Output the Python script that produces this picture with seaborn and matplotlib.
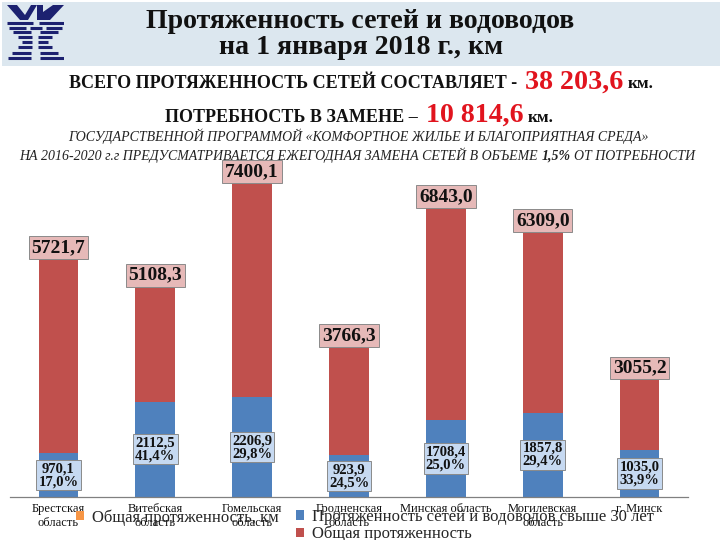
import matplotlib
matplotlib.use("Agg")
import matplotlib.pyplot as plt
import seaborn as sns
import pandas as pd
from matplotlib.patches import Patch, Rectangle, Polygon

# ---------------- data ----------------
regions = ["Брестская\nобласть", "Витебская\nобласть", "Гомельская\nобласть",
           "Гродненская\nобласть", "Минская область", "Могилевская\nобласть", "г. Минск"]
total_km = [5721.7, 5108.3, 7400.1, 3766.3, 6843.0, 6309.0, 3055.2]
old_km = [970.1, 2112.5, 2206.9, 923.9, 1708.4, 1857.8, 1035.0]
old_pct = [17.0, 41.4, 29.8, 24.5, 25.0, 29.4, 33.9]
legend_labels = ["Общая протяженность, км",
                 "Протяженность сетей и водоводов свыше 30 лет",
                 "Общая протяженность"]
title_lines = ["Протяженность сетей и водоводов", "на 1 января 2018 г., км"]
total_all = "38 203,6"
need_replace = "10 814,6"

RED = "#C0504D"
BLUE = "#4F81BD"
ORANGE = "#F79646"
TXT_RED = "#E1141E"

sns.set_theme(style="white")
plt.rcParams["font.family"] = ["Liberation Serif", "DejaVu Serif"]

W, H = 720, 540
fig = plt.figure(figsize=(7.2, 5.4), dpi=100)
fig.patch.set_facecolor("white")


def fx(x):
    return x / W


def fy(y):
    return 1 - y / H


# header band
fig.add_artist(Rectangle((fx(2), fy(66)), 1, 64 / H, transform=fig.transFigure,
                         fc="#DCE7EF", ec="none", zorder=0))

# logo
lax = fig.add_axes([fx(4), fy(62), 60 / W, 60 / H])
lax.set_xlim(0, 60)
lax.set_ylim(60, 0)
lax.axis("off")
NAVY = "#1C2170"
lax.add_patch(Polygon([(3, 3), (13, 3), (21, 13), (27, 3), (33, 3), (24, 18), (16, 18)],
                      closed=True, fc=NAVY, ec="none"))
lax.add_patch(Polygon([(33, 3), (39, 3), (39, 10), (49, 3), (60, 3), (46, 18), (33, 18)],
                      closed=True, fc=NAVY, ec="none"))
stripes = [(21, [(3, 29), (35, 60)]), (25.5, [(5, 22), (26, 38), (42, 58)]),
           (30, [(9, 27), (36, 54)]), (35, [(14, 28), (34, 48)]),
           (40, [(18, 28), (34, 44)]), (45, [(14, 28), (34, 48)]),
           (50.5, [(8, 27), (36, 54)]), (56, [(4, 27), (36, 60)])]
for yy, segs in stripes:
    for a, b in segs:
        lax.plot([a, b], [yy, yy], color=NAVY, lw=2.2, solid_capstyle="butt")

renderer = fig.canvas.get_renderer()


def place_line(pieces, x0, x1, ybase, base=12.0, gap=0.28):
    texts = []
    for s, scale, color, weight, style in pieces:
        t = fig.text(0, 0, s, fontsize=base * scale, color=color, fontweight=weight,
                     fontstyle=style, ha="left", va="baseline")
        texts.append((t, scale))

    def measure():
        ws = [t.get_window_extent(renderer).width for t, _ in texts]
        gaps = [gap * t.get_fontsize() * 100 / 72 for t, _ in texts[1:]]
        return ws, gaps

    ws, gaps = measure()
    k = (x1 - x0) / (sum(ws) + sum(gaps))
    for t, sc in texts:
        t.set_fontsize(base * sc * k)
    ws, gaps = measure()
    x = x0
    for i, (t, _) in enumerate(texts):
        if i > 0:
            x += gaps[i - 1]
        t.set_position((fx(x), fy(ybase)))
        x += ws[i]
    return base * k


# titles
tsize = place_line([(title_lines[0], 1, "#111111", "bold", "normal")], 146, 574, 28, base=20)
fig.text(fx(361), fy(53.5), title_lines[1], fontsize=tsize, fontweight="bold",
         color="#111111", ha="center", va="baseline")

place_line([("ВСЕГО ПРОТЯЖЕННОСТЬ СЕТЕЙ СОСТАВЛЯЕТ -", 1, "#111111", "bold", "normal"),
            (total_all, 1.55, TXT_RED, "bold", "normal"),
            ("км.", 0.95, "#111111", "bold", "normal")], 69, 652, 88.5)
place_line([("ПОТРЕБНОСТЬ В ЗАМЕНЕ –", 1, "#111111", "bold", "normal"),
            (need_replace, 1.55, TXT_RED, "bold", "normal"),
            ("км.", 0.95, "#111111", "bold", "normal")], 165, 553, 121.5)
place_line([("ГОСУДАРСТВЕННОЙ ПРОГРАММОЙ «КОМФОРТНОЕ ЖИЛЬЕ И БЛАГОПРИЯТНАЯ СРЕДА»",
             1, "#222222", "normal", "italic")], 68, 651, 141, base=9.5)
place_line([("НА 2016-2020 г.г ПРЕДУСМАТРИВАЕТСЯ ЕЖЕГОДНАЯ ЗАМЕНА СЕТЕЙ В ОБЪЕМЕ",
             1, "#222222", "normal", "italic"),
            ("1,5%", 1, "#222222", "bold", "italic"),
            ("ОТ ПОТРЕБНОСТИ", 1, "#222222", "normal", "italic")], 19, 702, 160, base=9.5)

# ---------------- chart ----------------
ax = fig.add_axes([fx(10), 43 / H, 678 / W, 339 / H])
df = pd.DataFrame({"region": regions, "total": total_km, "old": old_km, "pct": old_pct})
sns.barplot(data=df, x="region", y="total", color=RED, width=0.41, saturation=1, ax=ax,
            edgecolor="none")
sns.barplot(data=df, x="region", y="old", color=BLUE, width=0.41, saturation=1, ax=ax,
            edgecolor="none")
ax.set_xlim(-0.5, 6.5)
ax.set_ylim(0, 7500)
ax.set_xlabel("")
ax.set_ylabel("")
ax.set_yticks([])
ax.patch.set_alpha(0)
for s in ["left", "right", "top"]:
    ax.spines[s].set_visible(False)
ax.spines["bottom"].set_color("#808080")
ax.spines["bottom"].set_linewidth(0.9)
ax.set_xticks(range(len(regions)))
ax.set_xticklabels(regions, fontsize=9, linespacing=1.25, color="#111111")
ax.tick_params(axis="x", which="major", length=0, pad=4)
ax.set_xticks([i - 0.5 for i in range(len(regions) + 1)], minor=True)
ax.tick_params(axis="x", which="minor", length=5, color="#808080", width=0.9)


def fmt(v):
    return f"{v:.1f}".replace(".", ",")


for i, (t, o, p) in enumerate(zip(total_km, old_km, old_pct)):
    ax.text(i, t - 200, fmt(t), ha="center", va="center", fontsize=14, fontweight="bold",
            color="#111111", zorder=5,
            bbox=dict(boxstyle="square,pad=0.15", fc="#E6B9B8", ec="#8A8A8A", lw=0.7))
    ax.text(i, o / 2, f"{fmt(o)}\n{fmt(p)}%", ha="center", va="center", fontsize=10.5,
            fontweight="bold", color="#111111", linespacing=1.0, zorder=5,
            bbox=dict(boxstyle="square,pad=0.15", fc="#C6D9F1", ec="#8A8A8A", lw=0.7))

# legends
common = dict(loc="upper left", frameon=False, fontsize=12, handlelength=0.5,
              handleheight=0.5, handletextpad=0.45, borderpad=0, borderaxespad=0,
              labelspacing=0.05)
fig.legend(handles=[Patch(fc=ORANGE, ec="none")], labels=[legend_labels[0]],
           bbox_to_anchor=(fx(76), fy(509)), **common)
fig.legend(handles=[Patch(fc=BLUE, ec="none"), Patch(fc=RED, ec="none")],
           labels=legend_labels[1:], bbox_to_anchor=(fx(296), fy(509)), **common)

fig.savefig("out.png", dpi=100)
